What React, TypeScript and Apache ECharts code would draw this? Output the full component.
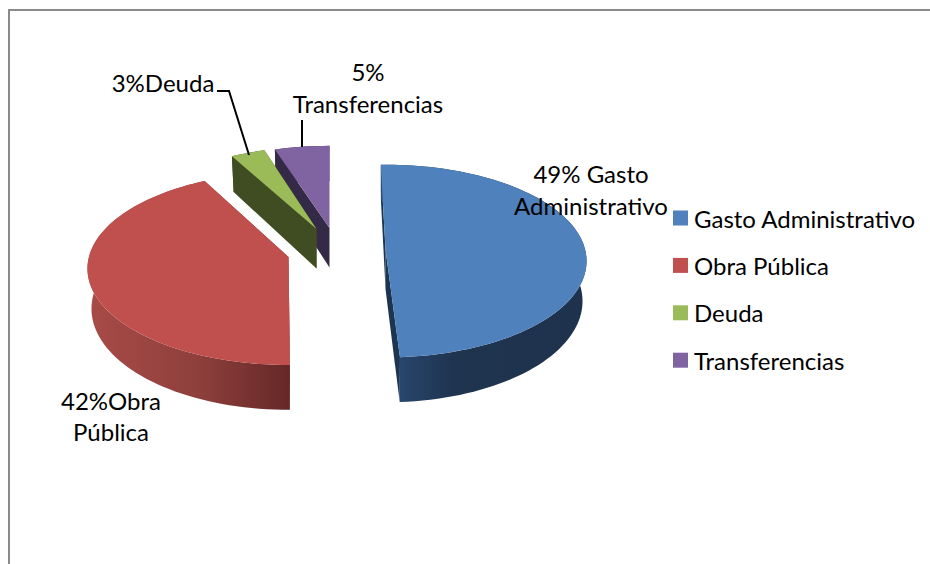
import React, { useEffect, useRef } from "react";
import * as echarts from "echarts";

const categories = ["Gasto Administrativo", "Obra Pública", "Deuda", "Transferencias"];
const seriesValues = [49.4, 42.4, 3.2, 5.0];
const sliceLabels = ["49% Gasto\nAdministrativo", "42%Obra\nPública", "3%Deuda", "5%\nTransferencias"];

const FONT = "Lato";
const K = 0.12;
const DEPTH = 39.5;
const BOTTOM_SHRINK = 0.98;
const START_ANGLE = -1.5;

// exploded 3D geometry of each slice (apex, radii, perspective correction of the start angle)
const geometry = [
  { ax: 385.5, ay: 249.5, rx: 199.6, ry: 95, nudge: 0, top: "#4F81BD", side: "#1C3652",
    wall: [[0, "#2C4C78"], [0.35, "#1F344F"], [1, "#1E324E"]] },
  { ax: 288.5, ay: 257, rx: 199.6, ry: 95, nudge: 3.3, top: "#C0504D", side: "#632423",
    wall: [[0, "#A84B47"], [0.55, "#8E3F3C"], [1, "#652827"]] },
  { ax: 316.5, ay: 229, rx: 192, ry: 92, nudge: -1.4, top: "#9BBB59", side: "#404D22",
    wall: [[0, "#404D22"], [1, "#404D22"]] },
  { ax: 329.5, ay: 228, rx: 197, ry: 92, nudge: -0.4, top: "#8064A2", side: "#342A47",
    wall: [[0, "#342A47"], [1, "#342A47"]] },
];
const labelPlacement = [
  { x: 591, y: 189.5, align: "center" },
  { x: 111, y: 416, align: "center" },
  { x: 163, y: 82.5, align: "center" },
  { x: 368, y: 87.5, align: "center" },
];

function sliceAngles() {
  const total = seriesValues.reduce((a, b) => a + b, 0);
  const out: [number, number][] = [];
  let cursor = START_ANGLE;
  seriesValues.forEach((v, i) => {
    const s = cursor + geometry[i].nudge;
    const e = s + (v / total) * 360;
    out.push([s, e]);
    cursor = e;
  });
  return out;
}

function project(g: any, deg: number) {
  const t = (deg * Math.PI) / 180;
  const X = Math.sin(t);
  const Y = Math.cos(t);
  const w = 1 + K * Y;
  const x = g.ax + (g.rx * X) / w;
  return { x, y: g.ay - (g.ry * Y) / w, bx: g.ax + (x - g.ax) * BOTTOM_SHRINK, d: DEPTH / w };
}

function arcPoints(g: any, s: number, e: number) {
  const pts: any[] = [];
  const n = Math.max(4, Math.ceil((e - s) / 2));
  for (let i = 0; i <= n; i++) pts.push(project(g, s + ((e - s) * i) / n));
  return pts;
}

function makeRenderItem(i: number, angles: [number, number][]) {
  return () => {
    const g = geometry[i];
    const [s, e] = angles[i];
    const arc = arcPoints(g, s, e);
    const apex = { x: g.ax, y: g.ay, bx: g.ax, d: DEPTH };
    const wall = (a: any, b: any) => ({
      type: "polygon",
      shape: { points: [[a.x, a.y], [b.x, b.y], [b.bx, b.y + b.d], [a.bx, a.y + a.d]] },
      style: { fill: g.side },
    });
    const xs = arc.map((p) => p.x);
    const rim = [
      ...arc.map((p) => [p.x, p.y]),
      ...arc.slice().reverse().map((p) => [p.bx, p.y + p.d]),
    ];
    const gradient = new echarts.graphic.LinearGradient(
      Math.min(...xs),
      0,
      Math.max(...xs),
      0,
      g.wall.map(([offset, color]: any) => ({ offset, color })),
      true
    );
    return {
      type: "group",
      children: [
        wall(arc[0], apex),
        wall(apex, arc[arc.length - 1]),
        { type: "polygon", shape: { points: rim }, style: { fill: gradient } },
        {
          type: "polygon",
          shape: { points: [[apex.x, apex.y], ...arc.map((p) => [p.x, p.y])] },
          style: { fill: g.top },
        },
      ],
    };
  };
}

export default function App() {
  const ref = useRef<HTMLDivElement>(null);
  useEffect(() => {
    const chart = echarts.init(ref.current!, undefined, { renderer: "svg" });
    const angles = sliceAngles();
    const drawOrder = [3, 2, 1, 0];
    chart.setOption({
      animation: false,
      backgroundColor: "#ffffff",
      legend: {
        data: categories,
        orient: "vertical",
        left: 673,
        top: 206,
        padding: 0,
        icon: "rect",
        itemWidth: 15,
        itemHeight: 15,
        itemGap: 23.4,
        selectedMode: false,
        textStyle: { fontFamily: FONT, fontSize: 24, color: "#000000", padding: [0, 0, 0, 1] },
      },
      series: drawOrder.map((i) => ({
        type: "custom",
        name: categories[i],
        coordinateSystem: "none",
        itemStyle: { color: geometry[i].top },
        data: [seriesValues[i]],
        renderItem: makeRenderItem(i, angles),
      })),
      graphic: [
        {
          type: "polyline",
          z: 10,
          shape: { points: [[9, 564], [9, 10], [930, 10]] },
          style: { stroke: "#8A8A8A", lineWidth: 2, fill: "none" },
        },
        {
          type: "polyline",
          z: 10,
          shape: { points: [[217, 91], [229, 91], [249, 155]] },
          style: { stroke: "#000000", lineWidth: 2, fill: "none" },
        },
        {
          type: "polyline",
          z: 10,
          shape: { points: [[302, 120], [302, 147]] },
          style: { stroke: "#000000", lineWidth: 2, fill: "none" },
        },
        ...sliceLabels.map((text, i) => ({
          type: "text",
          z: 10,
          x: labelPlacement[i].x,
          y: labelPlacement[i].y,
          style: {
            text,
            fontFamily: FONT,
            fontSize: 24,
            lineHeight: 31.5,
            fill: "#000000",
            textAlign: labelPlacement[i].align,
            textVerticalAlign: "middle",
          },
        })),
      ],
    });
    return () => chart.dispose();
  }, []);
  return <div ref={ref} style={{ position: "absolute", left: 0, top: 0, width: 930, height: 564 }} />;
}
